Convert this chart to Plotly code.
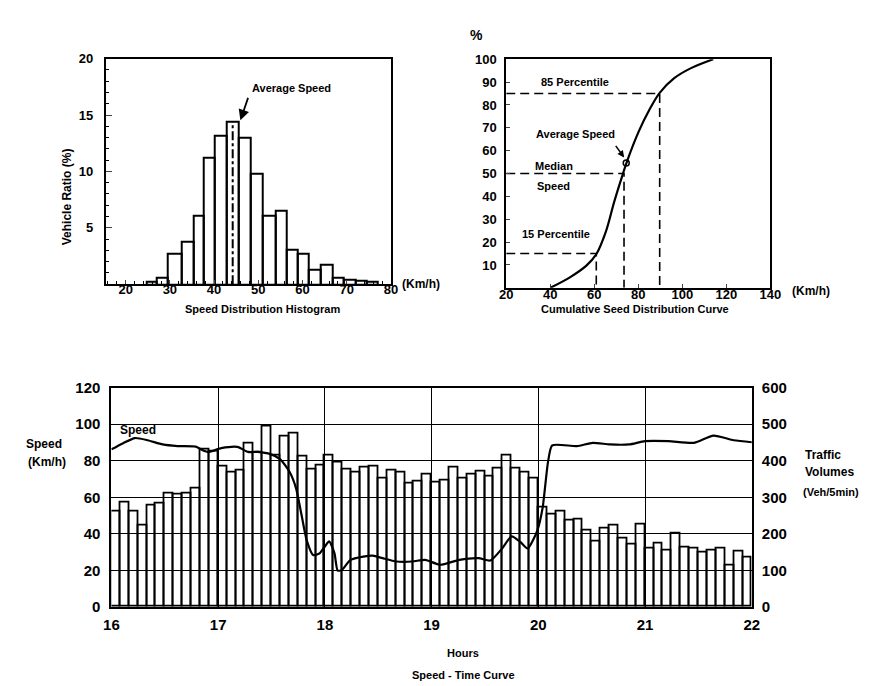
import plotly.graph_objects as go

W, H = 884, 686
def px(x): return x / W
def py(y): return 1 - y / H

FONT = "Liberation Sans"

# ---------------- Data: speed distribution histogram ----------------
hist_edges = [24.8, 27.1, 29.6, 32.6, 35.3, 37.7, 40.2, 42.8, 45.6, 48.2, 51.1, 53.9,
              56.4, 58.9, 61.3, 64.0, 66.7, 69.3, 71.9, 74.5, 77.0]
hist_ratio = [0.2, 0.6, 2.7, 3.8, 6.05, 11.2, 13.2, 14.4, 13.0, 9.8, 6.05, 6.5,
              3.1, 2.7, 1.3, 1.7, 0.6, 0.4, 0.3, 0.2]
hist_avg_speed = 44.2
hist_avg_ratio = 14.4

# ---------------- Data: cumulative speed distribution curve ----------------
cum_speed = [40, 49.1, 56.4, 60.9, 65.3, 69.0, 72.7, 74.9, 80.1, 85.2, 89.7, 96.3, 103.7, 114.0]
cum_pct = [0, 4.7, 9.7, 14.7, 24.7, 37.5, 49.0, 55.4, 68.2, 78.2, 85.3, 91.7, 96.0, 100]
p15 = (60.9, 15)
p50 = (73.5, 50)
p85 = (89.7, 85)
avg_pt = (74.5, 54.6)

# ---------------- Data: speed-time curve ----------------
hour_labels = ["16", "17", "18", "19", "20", "21", "22"]
volumes = [
    262, 286, 261, 224, 276, 284, 310, 308, 310, 325, 430, 425,   # 16:00-16:55
    385, 367, 374, 446, 421, 493, 414, 466, 475, 410, 377, 387,   # 17:00-17:55
    414, 395, 376, 367, 381, 385, 352, 374, 367, 338, 343, 362,   # 18:00-18:55
    340, 347, 380, 352, 361, 369, 356, 378, 414, 378, 367, 352,   # 19:00-19:55
    271, 253, 260, 235, 240, 208, 178, 214, 223, 188, 172, 226,   # 20:00-20:55
    161, 174, 154, 202, 163, 161, 150, 154, 161, 112, 152, 134,   # 21:00-21:55
]
speed_time = [16.00, 16.11, 16.22, 16.34, 16.48, 16.62, 16.79, 16.85, 16.91, 17.03,
              17.18, 17.28, 17.37, 17.49, 17.58, 17.67, 17.73, 17.78, 17.83, 17.89,
              17.95, 18.00, 18.04, 18.09, 18.12, 18.16, 18.24, 18.36, 18.45, 18.54,
              18.67, 18.82, 18.94, 19.08, 19.26, 19.44, 19.55, 19.66, 19.75, 19.83,
              19.90, 19.99, 20.04, 20.09, 20.13, 20.36, 20.51, 20.67, 20.85, 21.00,
              21.22, 21.46, 21.64, 21.83, 22.00]
speed_kmh = [86.2, 89.6, 92.4, 91.2, 88.9, 88.0, 87.7, 85.9, 84.8, 86.9,
             87.6, 84.8, 84.8, 83.6, 80.9, 73.8, 64.9, 50.7, 36.4, 28.4,
             29.3, 33.1, 35.9, 29.3, 19.9, 20.3, 25.8, 27.6, 28.1, 26.7,
             24.9, 24.9, 25.8, 23.1, 25.8, 26.7, 25.4, 32.0, 38.6, 35.6,
             32.0, 41.8, 54.2, 79.1, 88.4, 88.0, 89.8, 88.9, 88.9, 90.7,
             90.7, 89.8, 93.7, 91.2, 90.1]

bar_t = [16 + i / 12 + 1 / 24 for i in range(len(volumes))]

hist_x = [(hist_edges[i] + hist_edges[i + 1]) / 2 for i in range(len(hist_ratio))]
hist_w = [hist_edges[i + 1] - hist_edges[i] for i in range(len(hist_ratio))]

fig = go.Figure()

# Histogram
fig.add_trace(go.Bar(x=hist_x, y=hist_ratio, width=hist_w, xaxis="x", yaxis="y",
                     marker=dict(color="rgba(0,0,0,0)", line=dict(color="black", width=2)),
                     showlegend=False, hoverinfo="skip"))
fig.add_trace(go.Scatter(x=[hist_avg_speed, hist_avg_speed], y=[0, hist_avg_ratio],
                         xaxis="x", yaxis="y", mode="lines",
                         line=dict(color="black", width=2, dash="dashdot"), showlegend=False))

# Cumulative curve
fig.add_trace(go.Scatter(x=cum_speed, y=cum_pct, xaxis="x2", yaxis="y2", mode="lines",
                         line=dict(color="black", width=2.2, shape="spline", smoothing=1.0),
                         showlegend=False))
for (sx, sy) in [p15, p50, p85]:
    fig.add_trace(go.Scatter(x=[20, sx, sx], y=[sy, sy, 0], xaxis="x2", yaxis="y2",
                             mode="lines", line=dict(color="black", width=1.6, dash="9px,5px"),
                             showlegend=False))
fig.add_trace(go.Scatter(x=[avg_pt[0]], y=[avg_pt[1]], xaxis="x2", yaxis="y2", mode="markers",
                         marker=dict(symbol="circle-open", size=6, color="black",
                                     line=dict(width=1.5)), showlegend=False))

# Speed-time chart
fig.add_trace(go.Bar(x=bar_t, y=volumes, width=1 / 12, xaxis="x3", yaxis="y4",
                     marker=dict(color="rgba(0,0,0,0)", line=dict(color="black", width=1.8)),
                     showlegend=False))
fig.add_trace(go.Scatter(x=speed_time, y=speed_kmh, xaxis="x3", yaxis="y3", mode="lines",
                         line=dict(color="black", width=2.2, shape="spline", smoothing=0.6),
                         showlegend=False))

tickfont = dict(family=FONT, size=13, color="black", weight="bold")
bigtick = dict(family=FONT, size=15, color="black", weight="bold")
axline = dict(showline=True, linecolor="black", linewidth=2, mirror=True, zeroline=False,
              showgrid=False, tickfont=tickfont)
CLEAR = "rgba(0,0,0,0)"

fig.update_layout(
    width=W, height=H, margin=dict(l=0, r=0, t=0, b=0),
    paper_bgcolor="white", plot_bgcolor="rgba(0,0,0,0)",
    bargap=0, barmode="overlay",
    font=dict(family=FONT, color="black"),
    xaxis=dict(domain=[px(91.7), px(383.3)], range=[15.5, 80], anchor="y",
               tickvals=[20, 30, 40, 50, 60, 70, 80], ticks="inside", ticklen=4,
               ticklabelstandoff=-8,
               minor=dict(ticks="inside", ticklen=3, dtick=2, tick0=0, tickcolor="black"),
               **axline),
    yaxis=dict(domain=[py(274), py(42.7)], range=[0, 20], anchor="x",
               tickvals=[5, 10, 15, 20], ticks="inside", ticklen=6, ticklabelstandoff=8,
               minor=dict(ticks="inside", ticklen=3, dtick=1, tick0=0, tickcolor="black"),
               **axline),
    xaxis2=dict(domain=[px(501), px(771)], range=[20, 140], anchor="y2",
                tickvals=[20, 40, 60, 80, 100, 120, 140], ticks="inside", ticklen=4,
                ticklabelstandoff=-6, **axline),
    yaxis2=dict(domain=[py(277.7), py(43.3)], range=[0, 100], anchor="x2",
                tickvals=[10, 20, 30, 40, 50, 60, 70, 80, 90, 100], ticks="inside", ticklen=4,
                ticklabelstandoff=5, **axline),
    xaxis3=dict(domain=[px(97.5), px(752)], range=[16, 22], anchor="y3",
                tickvals=[16, 17, 18, 19, 20, 21, 22], ticktext=hour_labels,
                ticks="", ticklabelstandoff=3,
                showline=True, linecolor="black", linewidth=2, mirror=True, zeroline=False,
                showgrid=True, gridcolor="black", gridwidth=1.2, tickfont=bigtick),
    yaxis3=dict(domain=[py(605), py(380)], range=[0, 120], anchor="x3",
                tickvals=[0, 20, 40, 60, 80, 100, 120],
                ticks="outside", ticklen=6, tickcolor=CLEAR,
                showline=True, linecolor="black", linewidth=2, mirror=True, zeroline=False,
                showgrid=True, gridcolor="black", gridwidth=1, tickfont=bigtick),
    yaxis4=dict(overlaying="y3", side="right", range=[0, 600], anchor="x3",
                tickvals=[0, 100, 200, 300, 400, 500, 600],
                ticks="outside", ticklen=6, tickcolor=CLEAR,
                showline=False, showgrid=False, zeroline=False, tickfont=bigtick),
)

def txt(x, y, s, size=11, bold=True, angle=0, xanchor="center"):
    fig.add_annotation(x=px(x), y=py(y), xref="paper", yref="paper", text=s,
                       showarrow=False, textangle=angle, xanchor=xanchor, yanchor="middle",
                       font=dict(family=FONT, size=size, color="black",
                                 weight="bold" if bold else "normal"))

def arrow(hx, hy, tx, ty, size=1.0, width=1.6):
    fig.add_annotation(x=px(hx), y=py(hy), xref="paper", yref="paper",
                       ax=tx - hx, ay=ty - hy, axref="pixel", ayref="pixel",
                       text="", showarrow=True, arrowhead=2, arrowsize=size,
                       arrowwidth=width, arrowcolor="black", standoff=0)

# Histogram texts
txt(53, 184, "Vehicle Ratio (%)", size=12, angle=-90)
txt(414, 274, "(Km/h)", size=12)
txt(252, 299, "Speed Distribution Histogram", size=11)
txt(282, 73, "Average Speed", size=11)
arrow(229.3, 106, 237.5, 82, size=1.2, width=1.8)

# Cumulative curve texts
txt(471, 18, "%", size=14)
txt(812, 281, "(Km/h)", size=12)
txt(633, 299, "Cumulative Seed Distribution Curve", size=11)
txt(571, 67, "85 Percentile", size=11)
txt(572, 120, "Average Speed", size=11)
txt(550, 153, "Median", size=11)
txt(549, 173, "Speed", size=11)
txt(552, 223, "15 Percentile", size=11)
arrow(621.5, 144, 612, 131, size=0.9, width=1.5)

# Speed-time texts
txt(125, 423, "Speed", size=12)
txt(29, 438, "Speed", size=12)
txt(32, 456, "(Km/h)", size=12)
txt(804, 449, "Traffic", size=12, xanchor="left")
txt(804, 467, "Volumes", size=12, xanchor="left")
txt(802, 487, "(Veh/5min)", size=11, xanchor="left")
txt(457, 652, "Hours", size=11)
txt(457, 675, "Speed - Time Curve", size=11)

fig.write_html("out.html")
